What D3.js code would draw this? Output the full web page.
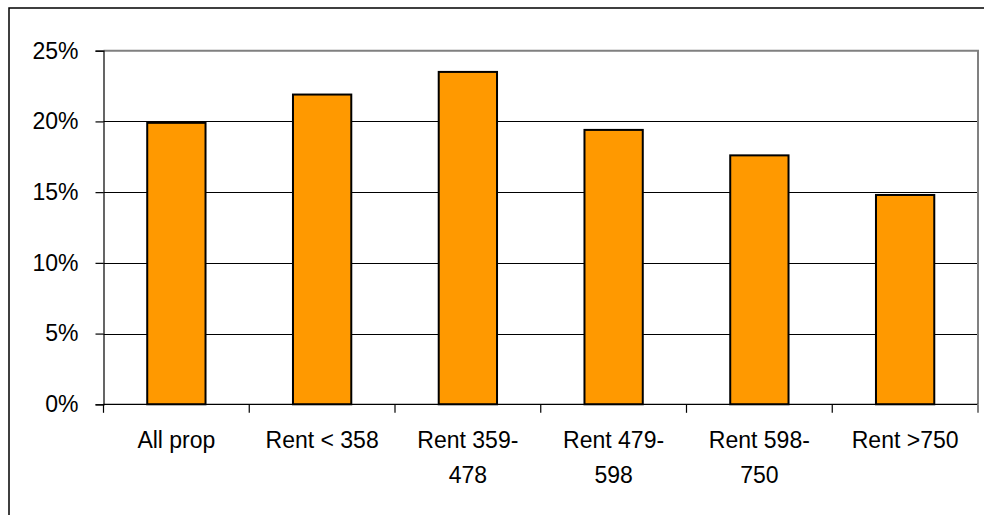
<!DOCTYPE html>
<html>
<head>
<meta charset="utf-8">
<script src="https://cdn.jsdelivr.net/npm/d3@7"></script>
<style>
  html, body { margin: 0; padding: 0; background: #fff; }
  svg { display: block; }
  text { font-family: "Liberation Sans", Arial, sans-serif; fill: #000; }
</style>
</head>
<body>
<svg id="chart" width="984" height="515"></svg>
<script>
// Share of properties by rent band
const categories = ["All prop", "Rent < 358", "Rent 359-478", "Rent 479-598", "Rent 598-750", "Rent >750"];
const shares = [0.199, 0.219, 0.235, 0.194, 0.176, 0.148];
const yTicks = [0, 0.05, 0.10, 0.15, 0.20, 0.25];

const W = 984, H = 515;
const plot = { left: 103.5, right: 978, top: 50.7, bottom: 404.3 };
const fontSize = 23;

const svg = d3.select("#chart");

// Outer chart frame
svg.append("rect")
  .attr("x", 9).attr("y", 8)
  .attr("width", 1000).attr("height", 600)
  .attr("fill", "#fff").attr("stroke", "#000").attr("stroke-width", 1.5);

const x = d3.scaleBand()
  .domain(categories)
  .range([plot.left, plot.right])
  .paddingInner(0.6)
  .paddingOuter(0.3);

const y = d3.scaleLinear()
  .domain([0, 0.25])
  .range([plot.bottom, plot.top]);

// Horizontal gridlines
svg.append("g")
  .selectAll("line")
  .data(yTicks.filter(t => t > 0 && t < 0.25))
  .join("line")
  .attr("x1", plot.left).attr("x2", plot.right)
  .attr("y1", d => Math.round(y(d)) + 0.5).attr("y2", d => Math.round(y(d)) + 0.5)
  .attr("stroke", "#000").attr("stroke-width", 1);

// Plot area border (top and right, grey)
svg.append("path")
  .attr("d", `M${plot.left},${y(0.25)}H${plot.right}V${plot.bottom}`)
  .attr("fill", "none").attr("stroke", "#808080").attr("stroke-width", 2);

// Bars
svg.append("g")
  .selectAll("rect")
  .data(categories.map((c, i) => ({ c, v: shares[i] })))
  .join("rect")
  .attr("x", d => x(d.c))
  .attr("y", d => y(d.v))
  .attr("width", x.bandwidth())
  .attr("height", d => y(0) - y(d.v))
  .attr("fill", "#FF9900")
  .attr("stroke", "#000")
  .attr("stroke-width", 2);

// Y axis
const yAxis = d3.axisLeft(y)
  .tickValues(yTicks)
  .tickFormat(d3.format(".0%"))
  .tickSize(8)
  .tickPadding(17);

const gy = svg.append("g")
  .attr("transform", `translate(${plot.left},0)`)
  .call(yAxis);
gy.select(".domain").attr("stroke", "#000").attr("stroke-width", 1.2);
gy.selectAll(".tick line").attr("stroke", "#000").attr("stroke-width", 1.2);
gy.selectAll(".tick text")
  .style("font-family", '"Liberation Sans", Arial, sans-serif')
  .style("font-size", fontSize + "px")
  .attr("fill", "#000");

// X axis baseline and category boundary ticks
const step = x.step();
const bounds = categories.map(c => x(c) + x.bandwidth() / 2 - step / 2)
  .concat([x(categories[categories.length - 1]) + x.bandwidth() / 2 + step / 2]);

svg.append("line")
  .attr("x1", plot.left).attr("x2", plot.right)
  .attr("y1", y(0)).attr("y2", y(0))
  .attr("stroke", "#000").attr("stroke-width", 1.2);

svg.append("g")
  .selectAll("line")
  .data(bounds)
  .join("line")
  .attr("x1", d => d).attr("x2", d => d)
  .attr("y1", y(0)).attr("y2", y(0) + 8.5)
  .attr("stroke", (d, i) => i === bounds.length - 1 ? "#808080" : "#000")
  .attr("stroke-width", (d, i) => i === bounds.length - 1 ? 2 : 1.2);

// Category labels, wrapped after a hyphen
const labels = svg.append("g")
  .selectAll("text")
  .data(categories)
  .join("text")
  .attr("text-anchor", "middle")
  .style("font-size", fontSize + "px")
  .attr("x", d => x(d) + x.bandwidth() / 2)
  .attr("y", 448);

labels.each(function(d) {
  const parts = d.includes("-") ? [d.slice(0, d.indexOf("-") + 1), d.slice(d.indexOf("-") + 1)] : [d];
  const t = d3.select(this);
  parts.forEach((p, i) => {
    t.append("tspan")
      .attr("x", x(d) + x.bandwidth() / 2)
      .attr("dy", i === 0 ? 0 : 35)
      .text(p);
  });
});
</script>
</body>
</html>
